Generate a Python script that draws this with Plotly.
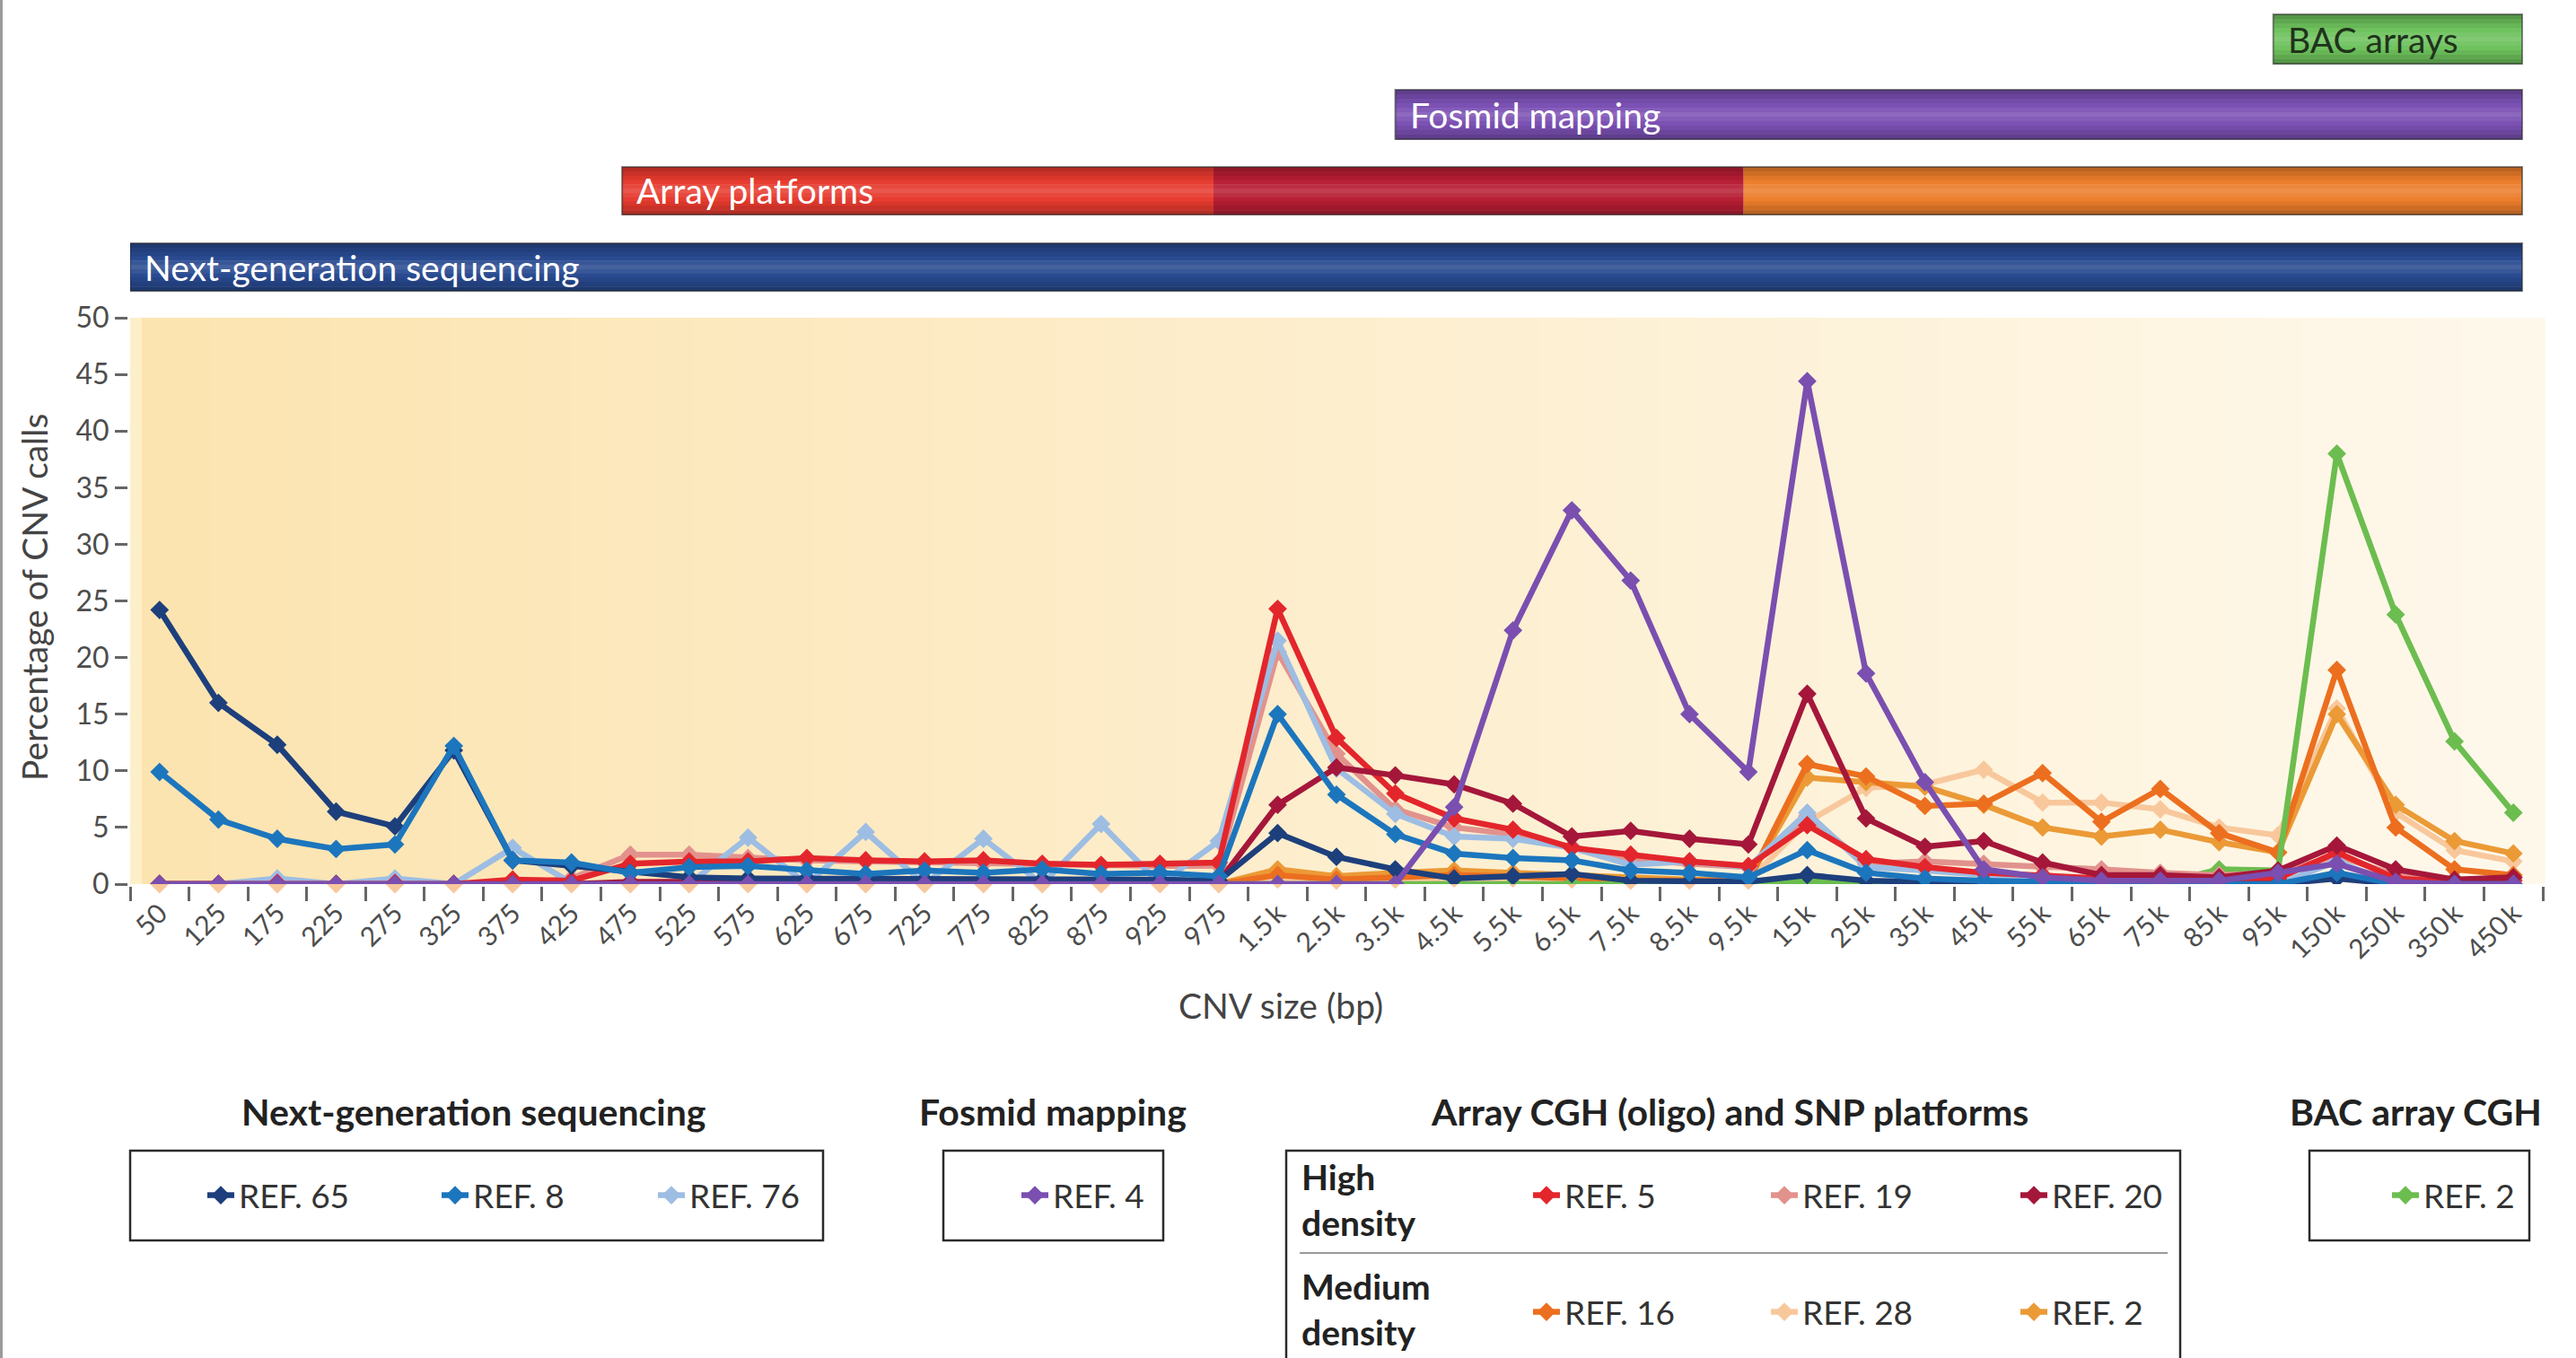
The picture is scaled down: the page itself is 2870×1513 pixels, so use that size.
import plotly.graph_objects as go

# ---------------- data ----------------
TS = "\u2009"
CATEGORIES = ["50", "125", "175", "225", "275", "325", "375", "425", "475", "525",
              "575", "625", "675", "725", "775", "825", "875", "925", "975",
              "1.5" + TS + "k", "2.5" + TS + "k", "3.5" + TS + "k", "4.5" + TS + "k", "5.5" + TS + "k",
              "6.5" + TS + "k", "7.5" + TS + "k", "8.5" + TS + "k", "9.5" + TS + "k",
              "15" + TS + "k", "25" + TS + "k", "35" + TS + "k", "45" + TS + "k", "55" + TS + "k",
              "65" + TS + "k", "75" + TS + "k", "85" + TS + "k", "95" + TS + "k",
              "150" + TS + "k", "250" + TS + "k", "350" + TS + "k", "450" + TS + "k"]

# Next-generation sequencing
REF65 = [24.2, 16.0, 12.3, 6.4, 5.1, 11.8, 2.1, 1.6, 1.0, 0.6, 0.5, 0.5, 0.4, 0.4, 0.4, 0.4, 0.4, 0.4, 0.3,
         4.5, 2.4, 1.3, 0.5, 0.7, 0.9, 0.3, 0.2, 0.2,
         0.8, 0.3, 0.2, 0.2, 0.1, 0.0, 0.0, 0.0, 0.0,
         0.5, 0.0, 0.0, 0.0]
REF8 = [9.9, 5.7, 4.0, 3.1, 3.5, 12.2, 2.1, 1.9, 1.0, 1.5, 1.6, 1.2, 0.9, 1.2, 1.0, 1.3, 0.9, 1.0, 0.7,
        15.0, 7.9, 4.4, 2.7, 2.3, 2.1, 1.2, 1.0, 0.6,
        3.0, 1.0, 0.5, 0.3, 0.2, 0.0, 0.0, 0.0, 0.0,
        1.0, 0.0, 0.0, 0.0]
REF76 = [0.0, 0.0, 0.5, 0.0, 0.5, 0.0, 3.2, 0.1, 0.0, 0.0, 4.1, 0.0, 4.6, 0.0, 4.0, 0.0, 5.3, 0.0, 3.8,
         21.5, 10.2, 6.2, 4.2, 4.0, 3.2, 1.7, 2.0, 1.5,
         6.3, 1.5, 1.2, 0.8, 0.5, 0.0, 0.0, 0.0, 0.0,
         2.0, 0.0, 0.0, 0.0]
# Fosmid mapping
REF4 = [0.0] * 19 + [0.0, 0.0, 0.0, 6.8, 22.4, 33.0, 26.8, 15.0, 9.9,
                     44.4, 18.6, 9.0, 1.3, 0.6, 0.3, 0.3, 0.3, 1.0,
                     1.8, 0.2, 0.0, 0.0]
# Array CGH (oligo) and SNP platforms - high density
REF5 = [0.0, 0.0, 0.1, 0.0, 0.1, 0.0, 0.4, 0.3, 1.8, 2.0, 2.0, 2.3, 2.1, 2.0, 2.1, 1.8, 1.7, 1.8, 1.9,
        24.3, 12.9, 8.0, 5.8, 4.8, 3.2, 2.6, 2.0, 1.6,
        5.2, 2.2, 1.5, 1.0, 0.8, 0.5, 0.5, 0.3, 0.5,
        2.8, 0.5, 0.2, 0.3]
REF19 = [0.0, 0.0, 0.0, 0.0, 0.0, 0.0, 0.0, 0.5, 2.6, 2.6, 2.3, 2.1, 2.0, 1.9, 1.8, 1.7, 1.6, 1.6, 1.6,
         20.5, 11.5, 6.6, 5.0, 4.4, 3.3, 2.2, 1.8, 1.5,
         6.0, 1.8, 2.0, 1.8, 1.5, 1.3, 1.0, 0.8, 1.0,
         2.5, 0.8, 0.3, 0.5]
REF20 = [0.0, 0.0, 0.0, 0.0, 0.0, 0.0, 0.0, 0.0, 0.2, 0.2, 0.2, 0.2, 0.2, 0.2, 0.2, 0.2, 0.2, 0.2, 0.2,
         7.0, 10.3, 9.6, 8.8, 7.1, 4.2, 4.7, 4.0, 3.5,
         16.8, 5.8, 3.3, 3.8, 1.9, 0.8, 0.8, 0.6, 1.2,
         3.4, 1.3, 0.4, 0.6]
# medium density
REF16 = [0.0] * 19 + [0.8, 0.4, 0.6, 0.8, 0.7, 0.5, 0.3, 0.3, 0.3,
                      10.6, 9.5, 6.9, 7.1, 9.8, 5.5, 8.4, 4.5, 2.8,
                      18.9, 5.0, 1.3, 0.8]
REF28 = [0.0] * 19 + [0.4, 0.3, 0.4, 0.5, 0.5, 0.4, 0.3, 0.3, 0.3,
                      5.5, 8.5, 8.8, 10.1, 7.2, 7.2, 6.6, 5.0, 4.3,
                      15.5, 6.3, 3.0, 2.0]
REF2_MED = [0.0] * 19 + [1.3, 0.7, 1.0, 1.2, 1.0, 0.8, 0.5, 0.4, 0.4,
                         9.4, 9.0, 8.6, 7.0, 5.0, 4.2, 4.8, 3.7, 2.8,
                         15.0, 7.0, 3.8, 2.7]
# BAC array CGH
REF2_BAC = [0.0] * 28 + [0.3, 0.0, 0.0, 0.0, 0.0, 0.0, 0.0, 1.3, 1.2,
                         38.0, 23.8, 12.6, 6.3]

Y_TICKS = [0, 5, 10, 15, 20, 25, 30, 35, 40, 45, 50]

# ---------------- layout geometry ----------------
W, H = 2870, 1513
ML, MR, MT, MB = 145, 37, 354, 528
PW = W - ML - MR
PH = H - MT - MB
FONT = "Lato"


def px_x(px):
    return (px - ML) / PW


def px_y(py):
    return (H - MB - py) / PH


def hex2rgb(h):
    h = h.lstrip("#")
    return tuple(int(h[i:i + 2], 16) for i in (0, 2, 4))


def shade(h, f):
    r, g, b = hex2rgb(h)
    if f >= 0:
        r, g, b = [c + (255 - c) * f for c in (r, g, b)]
    else:
        r, g, b = [c * (1 + f) for c in (r, g, b)]
    return "rgb(%d,%d,%d)" % (round(r), round(g), round(b))


SERIES = [
    # name, values, colour, legend, zorder, legendwidth
    ("REF. 65", REF65, "#1d3f7c", "legend", 9, 216),
    ("REF. 8", REF8, "#1c76bd", "legend", 10, 196),
    ("REF. 76", REF76, "#9dbde3", "legend", 6, 130),
    ("REF. 4", REF4, "#7a4fb0", "legend2", 11, 130),
    ("REF. 5", REF5, "#e3262c", "legend3", 7, 220),
    ("REF. 19", REF19, "#e2928d", "legend3", 5, 233),
    ("REF. 20", REF20, "#a5173a", "legend3", 8, 130),
    ("REF. 16", REF16, "#ec6f1f", "legend4", 3, 220),
    ("REF. 28", REF28, "#f8c89c", "legend4", 1, 233),
    ("REF. 2", REF2_MED, "#eb9a36", "legend4", 2, 130),
    ("REF. 2", REF2_BAC, "#6cbd4f", "legend5", 4, 130),
]

fig = go.Figure()
for name, vals, col, leg, z, lw in SERIES:
    fig.add_trace(go.Scatter(
        x=CATEGORIES, y=vals, name=name, mode="lines+markers",
        line=dict(color=col, width=6.5),
        marker=dict(symbol="diamond", size=16, color=col),
        legend=leg, zorder=z, legendwidth=lw, cliponaxis=False,
        hoverinfo="skip"))

shapes = []
# plot-area background gradient
BG_L = (252, 228, 176)
BG_R = (254, 248, 235)
NSTRIP = 60
for k in range(NSTRIP):
    t = k / (NSTRIP - 1)
    c = tuple(round(BG_L[i] + (BG_R[i] - BG_L[i]) * t) for i in range(3))
    shapes.append(dict(type="rect", xref="paper", yref="paper",
                       x0=k / NSTRIP, x1=(k + 1) / NSTRIP + 0.001, y0=0, y1=1,
                       fillcolor="rgb(%d,%d,%d)" % c, line_width=0, layer="below"))
shapes.append(dict(type="rect", xref="paper", yref="paper", x0=0, x1=px_x(158), y0=0, y1=1,
                   fillcolor="#fdf0c8", line_width=0, layer="below"))

# page frame line at far left
shapes.append(dict(type="rect", xref="paper", yref="paper", x0=px_x(0), x1=px_x(3),
                   y0=px_y(H), y1=px_y(0), fillcolor="#9a9a9a", line_width=0))

# ---------------- platform bars above plot ----------------
PLATFORM_BARS = [
    # label, label colour, row (top px, bottom px), segments (start cat, start offset, end cat, colour)
    ("Next-generation sequencing", "white", (271, 324), [(CATEGORIES[0], -0.5, CATEGORIES[-1], "#27498f")]),
    ("Array platforms", "white", (186, 239), [(CATEGORIES[8], -0.14, CATEGORIES[18], "#e63a2e"),
                                              (CATEGORIES[18], -0.09, CATEGORIES[27], "#b71d33"),
                                              (CATEGORIES[27], -0.08, CATEGORIES[-1], "#ec7d2a")]),
    ("Fosmid mapping", "white", (100, 155), [(CATEGORIES[21], 0.0, CATEGORIES[-1], "#7a4fb3")]),
    ("BAC arrays", "#1f331c", (16, 71), [(CATEGORIES[36], -0.08, CATEGORIES[-1], "#6dc15c")]),
]
annotations = []
NSH = 11
for label, tcol, (top, bot), segs in PLATFORM_BARS:
    bar_x0 = None
    bar_x1 = None
    for i_s, (s0, off, s1, col) in enumerate(segs):
        x0 = CATEGORIES.index(s0) + off
        if i_s + 1 < len(segs):
            nxt = segs[i_s + 1]
            x1 = CATEGORIES.index(nxt[0]) + nxt[1]
        else:
            x1 = CATEGORIES.index(s1) + 0.15
        if bar_x0 is None:
            bar_x0 = x0
        bar_x1 = x1
        hgt = bot - top
        for i in range(NSH):
            t = (i + 0.5) / NSH
            s = 1 - abs(2 * t - 1)
            f = -0.28 + 0.42 * (s ** 0.8)
            shapes.append(dict(type="rect", xref="x", yref="paper", x0=x0, x1=x1,
                               y0=px_y(top + hgt * (i + 1) / NSH + 0.6), y1=px_y(top + hgt * i / NSH),
                               fillcolor=shade(col, f), line_width=0))
    shapes.append(dict(type="rect", xref="x", yref="paper", x0=bar_x0, x1=bar_x1,
                       y0=px_y(bot), y1=px_y(top), fillcolor="rgba(0,0,0,0)",
                       line=dict(color="rgba(40,40,40,0.55)", width=2)))
    annotations.append(dict(text=label, xref="x", yref="paper", x=bar_x0, xshift=14,
                            y=px_y((top + bot) / 2), xanchor="left", yanchor="middle", showarrow=False,
                            font=dict(family=FONT, size=39, color=tcol)))

# ---------------- legend frames and titles ----------------
BOX_LINE = dict(color="#2b2b2b", width=2.5)
LEGEND_BOXES = [(145, 917, 1282, 1382), (1051, 1296, 1282, 1382), (1433, 2429, 1282, 1530),
                (2573, 2818, 1282, 1382)]
for x0, x1, y0, y1 in LEGEND_BOXES:
    shapes.append(dict(type="rect", xref="paper", yref="paper", x0=px_x(x0), x1=px_x(x1),
                       y0=px_y(y1), y1=px_y(y0), line=BOX_LINE, fillcolor="rgba(0,0,0,0)"))
shapes.append(dict(type="line", xref="paper", yref="paper", x0=px_x(1448), x1=px_x(2415),
                   y0=px_y(1396), y1=px_y(1396), line=dict(color="#9a9a9a", width=2)))

GROUP_TITLES = [("Next-generation sequencing", 528), ("Fosmid mapping", 1173),
                ("Array CGH (oligo) and SNP platforms", 1927), ("BAC array CGH", 2691)]
for txt, cx in GROUP_TITLES:
    annotations.append(dict(text="<b>%s</b>" % txt, xref="paper", yref="paper", x=px_x(cx), y=px_y(1238),
                            xanchor="center", yanchor="middle", showarrow=False,
                            font=dict(family=FONT, size=41, color="#222")))
for txt, cy in [("High<br>density", 1336), ("Medium<br>density", 1458)]:
    annotations.append(dict(text="<b>%s</b>" % txt, xref="paper", yref="paper", x=px_x(1448), y=px_y(cy),
                            xanchor="left", yanchor="middle", align="left", showarrow=False,
                            font=dict(family=FONT, size=39, color="#222")))

# axis titles
annotations.append(dict(text="CNV size (bp)", xref="paper", yref="paper", x=px_x(1427), y=px_y(1120),
                        xanchor="center", yanchor="middle", showarrow=False,
                        font=dict(family=FONT, size=39, color="#444")))
annotations.append(dict(text="Percentage of CNV calls", xref="paper", yref="paper", x=px_x(38), y=px_y(666),
                        xanchor="center", yanchor="middle", textangle=-90, showarrow=False,
                        font=dict(family=FONT, size=39, color="#444")))


def legend_cfg(text_px, row_py):
    return dict(x=px_x(text_px - 40), y=px_y(row_py), xanchor="left", yanchor="middle",
                orientation="h", bgcolor="rgba(0,0,0,0)", borderwidth=0,
                font=dict(family=FONT, size=37, color="#333"), itemsizing="trace",
                traceorder="normal", entrywidthmode="pixels")


fig.update_layout(
    width=W, height=H,
    margin=dict(l=ML, r=MR, t=MT, b=MB, autoexpand=False),
    paper_bgcolor="white", plot_bgcolor="#fdeecf",
    showlegend=True,
    legend=legend_cfg(266, 1332),
    legend2=legend_cfg(1173, 1332),
    legend3=legend_cfg(1743, 1332),
    legend4=legend_cfg(1743, 1462),
    legend5=legend_cfg(2700, 1332),
    shapes=shapes, annotations=annotations,
    xaxis=dict(type="category", categoryorder="array", categoryarray=CATEGORIES,
               range=[-0.5, len(CATEGORIES) - 0.5], tickson="boundaries",
               ticks="outside", ticklen=16, tickwidth=2.5, tickcolor="#666",
               showline=True, linecolor="#888", linewidth=3, showgrid=False, zeroline=False,
               tickangle=-45, tickfont=dict(family=FONT, size=30, color="#4d4d4d")),
    yaxis=dict(range=[0, 50], tickvals=Y_TICKS, ticks="outside", ticklen=14, tickwidth=2.5,
               tickcolor="#666", showline=True, linecolor="#666", linewidth=3,
               showgrid=False, zeroline=False,
               tickfont=dict(family=FONT, size=32, color="#4d4d4d")),
    font=dict(family=FONT),
)

fig.write_html("out.html", config={"displayModeBar": False},
               post_script="document.body.style.margin='0px';document.body.style.overflow='hidden';")
